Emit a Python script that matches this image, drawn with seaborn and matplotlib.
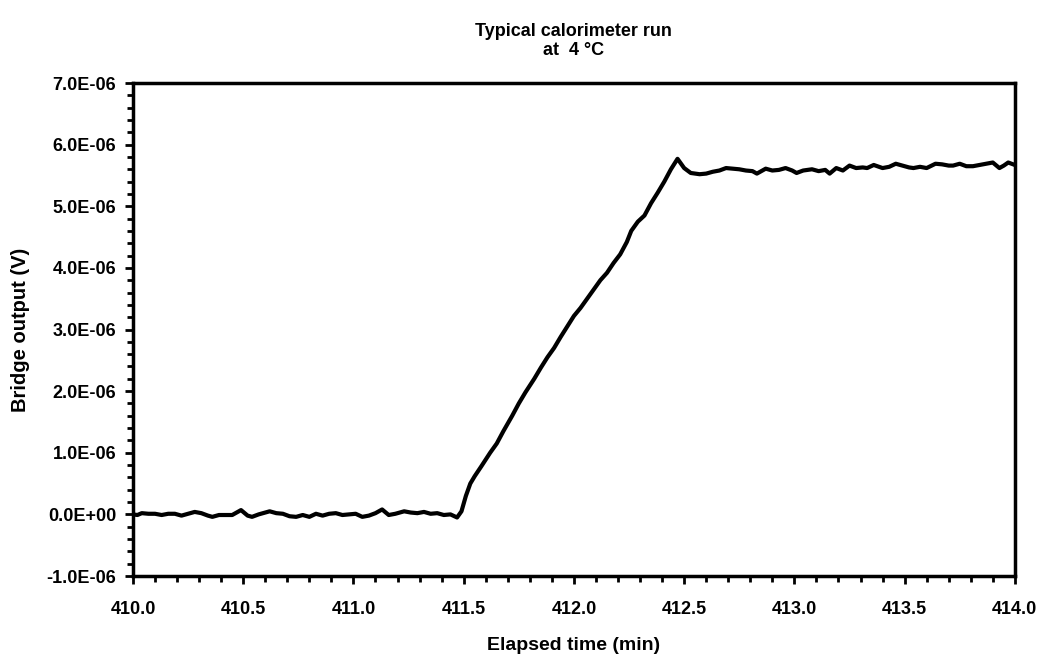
import seaborn as sns
import matplotlib.pyplot as plt
import matplotlib.ticker as mticker
import pandas as pd

# Elapsed time (min) and bridge output (in units of 1E-06 V)
time_min = [
    410.00, 410.02, 410.04, 410.07, 410.10, 410.13, 410.16, 410.19, 410.22, 410.25,
    410.28, 410.31, 410.34, 410.36, 410.39, 410.42, 410.45, 410.49, 410.52, 410.54,
    410.57, 410.60, 410.62, 410.65, 410.68, 410.71, 410.74, 410.77, 410.80, 410.83,
    410.86, 410.89, 410.92, 410.95, 410.98, 411.01, 411.04, 411.07, 411.10, 411.13,
    411.16, 411.19, 411.23, 411.26, 411.29, 411.32, 411.35, 411.38, 411.41, 411.44,
    411.47, 411.49, 411.51, 411.53, 411.55, 411.58, 411.62, 411.65, 411.68, 411.72,
    411.75, 411.78, 411.82, 411.85, 411.88, 411.91, 411.94, 411.97, 412.00, 412.03,
    412.06, 412.09, 412.12, 412.15, 412.18, 412.21, 412.24, 412.26, 412.29, 412.32,
    412.35, 412.38, 412.41, 412.44, 412.47, 412.50, 412.53, 412.57, 412.60, 412.63,
    412.66, 412.69, 412.72, 412.75, 412.78, 412.81, 412.83, 412.87, 412.90, 412.93,
    412.96, 412.99, 413.01, 413.04, 413.08, 413.11, 413.14, 413.16, 413.19, 413.22,
    413.25, 413.28, 413.31, 413.33, 413.36, 413.40, 413.43, 413.46, 413.49, 413.52,
    413.54, 413.57, 413.60, 413.64, 413.67, 413.70, 413.72, 413.75, 413.78, 413.81,
    413.84, 413.87, 413.90, 413.93, 413.95, 413.97, 414.00,
]
output_uV = [
    0.00, -0.01, 0.02, 0.01, 0.01, -0.01, 0.01, 0.01, -0.02, 0.01,
    0.04, 0.02, -0.02, -0.04, -0.01, -0.01, -0.01, 0.07, -0.02, -0.04,
    0.00, 0.03, 0.05, 0.02, 0.01, -0.03, -0.04, -0.01, -0.04, 0.01,
    -0.02, 0.01, 0.02, -0.01, 0.00, 0.01, -0.04, -0.02, 0.02, 0.08,
    -0.01, 0.01, 0.05, 0.03, 0.02, 0.04, 0.01, 0.02, -0.01, 0.00,
    -0.05, 0.05, 0.30, 0.50, 0.62, 0.78, 1.00, 1.15, 1.35, 1.60,
    1.80, 1.98, 2.20, 2.38, 2.55, 2.70, 2.88, 3.05, 3.22, 3.35,
    3.50, 3.65, 3.80, 3.92, 4.08, 4.22, 4.42, 4.60, 4.75, 4.85,
    5.05, 5.22, 5.40, 5.60, 5.77, 5.62, 5.54, 5.52, 5.53, 5.56,
    5.58, 5.62, 5.61, 5.60, 5.58, 5.57, 5.53, 5.61, 5.58, 5.59,
    5.62, 5.58, 5.54, 5.58, 5.60, 5.57, 5.59, 5.53, 5.62, 5.58,
    5.66, 5.62, 5.63, 5.62, 5.67, 5.62, 5.64, 5.69, 5.66, 5.63,
    5.62, 5.64, 5.62, 5.69, 5.68, 5.66, 5.66, 5.69, 5.65, 5.65,
    5.67, 5.69, 5.71, 5.62, 5.66, 5.71, 5.67,
]

df = pd.DataFrame({'time': time_min, 'output': output_uV})

sns.set_style('white')
plt.rcParams['font.family'] = ['Liberation Sans', 'DejaVu Sans']
plt.rcParams['font.weight'] = 'bold'
plt.rcParams['text.color'] = 'black'
plt.rcParams['axes.labelcolor'] = 'black'
plt.rcParams['xtick.color'] = 'black'
plt.rcParams['ytick.color'] = 'black'

fig = plt.figure(figsize=(10.43, 6.63), dpi=100)
ax = fig.add_axes([0.1275, 0.1312, 0.8455, 0.7436])

sns.lineplot(data=df, x='time', y='output', ax=ax, color='black', linewidth=3)

ax.set_xlim(410, 414)
ax.set_ylim(-1, 7)
ax.xaxis.set_major_locator(mticker.MultipleLocator(0.5))
ax.xaxis.set_minor_locator(mticker.MultipleLocator(0.1))
ax.yaxis.set_major_locator(mticker.MultipleLocator(1))
ax.yaxis.set_minor_locator(mticker.MultipleLocator(0.2))
ax.xaxis.set_major_formatter(mticker.FormatStrFormatter('%.1f'))
ax.yaxis.set_major_formatter(mticker.FuncFormatter(lambda v, p: f'{v * 1e-6:.1E}'))

ax.tick_params(axis='both', which='major', direction='out', length=6, width=2,
               color='black', labelcolor='black', labelsize=13, pad=6)
ax.tick_params(axis='both', which='minor', direction='out', length=4, width=2,
               color='black')
ax.tick_params(axis='x', which='major', pad=12)
ax.tick_params(left=True, bottom=True, which='both')
for lab in ax.get_xticklabels() + ax.get_yticklabels():
    lab.set_fontweight('bold')

for side in ['left', 'bottom', 'top', 'right']:
    ax.spines[side].set_color('black')
    ax.spines[side].set_linewidth(2.5)

ax.set_xlabel('Elapsed time (min)', fontsize=14, fontweight='bold', labelpad=14, color='black')
ax.set_ylabel('Bridge output (V)', fontsize=14.5, fontweight='bold', labelpad=12, color='black')
ax.set_title('Typical calorimeter run\nat  4 °C', fontsize=13, fontweight='bold', pad=20,
             color='black')

fig.savefig('out.png', dpi=100)
